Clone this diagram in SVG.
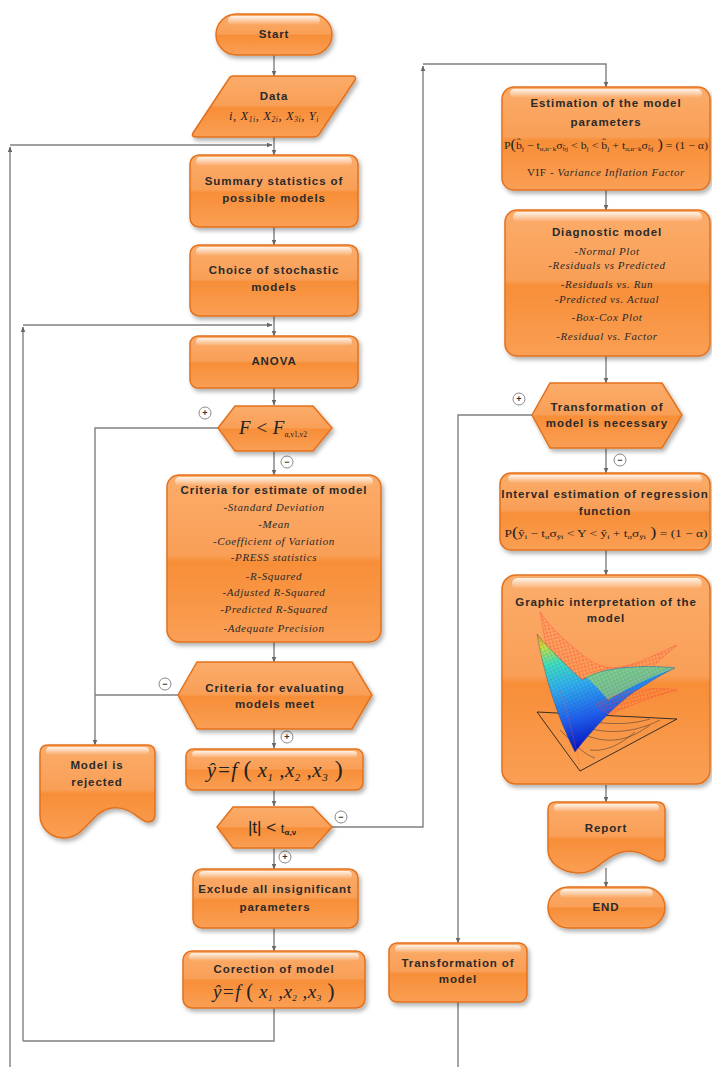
<svg xmlns="http://www.w3.org/2000/svg" width="712" height="1067" viewBox="0 0 712 1067">
<defs>
<style>
.box{fill:url(#og);stroke:#e2711d;stroke-width:1.5;filter:url(#sh)}
.gl{fill:url(#gloss)}
.lbl{font-family:"Liberation Sans",Arial,sans-serif;font-weight:bold;font-size:11.5px;letter-spacing:0.9px;fill:#2a2a2a;text-anchor:middle}
.it{font-family:"Liberation Serif","Times New Roman",serif;font-style:italic;font-size:11px;letter-spacing:0.6px;fill:#2a2a2a;text-anchor:middle}
.fm{font-family:"Liberation Serif","Times New Roman",serif;fill:#222;text-anchor:middle}
.cn{fill:none;stroke:#808080;stroke-width:1.4}
.arr{marker-end:url(#ah)}
.sg circle{fill:#fff;stroke:#8a8a8a;stroke-width:1}
.sg text{font-family:"Liberation Sans",Arial,sans-serif;font-size:9px;font-weight:bold;fill:#333;text-anchor:middle}
</style>
<linearGradient id="og" x1="0" y1="0" x2="0" y2="1">
<stop offset="0" stop-color="#fbac6a"/>
<stop offset="0.48" stop-color="#f99f57"/>
<stop offset="0.52" stop-color="#f78e38"/>
<stop offset="1" stop-color="#fa9f55"/>
</linearGradient>
<linearGradient id="gloss" x1="0" y1="0" x2="0" y2="1">
<stop offset="0" stop-color="#fff" stop-opacity="0.85"/>
<stop offset="1" stop-color="#fff" stop-opacity="0"/>
</linearGradient>
<linearGradient id="jet" x1="0.05" y1="0" x2="0.35" y2="1">
<stop offset="0" stop-color="#f0a020"/>
<stop offset="0.1" stop-color="#c8e040"/>
<stop offset="0.25" stop-color="#40e0c0"/>
<stop offset="0.45" stop-color="#30b0f0"/>
<stop offset="0.72" stop-color="#2060f0"/>
<stop offset="1" stop-color="#0008c0"/>
</linearGradient>
<pattern id="redmesh" width="5" height="5" patternUnits="userSpaceOnUse" patternTransform="rotate(30)">
<path d="M0,0 L5,5 M5,0 L0,5" stroke="#ff3030" stroke-width="0.5" stroke-opacity="0.7"/>
</pattern>
<pattern id="dkmesh" width="5" height="5" patternUnits="userSpaceOnUse" patternTransform="rotate(20)">
<path d="M0,0 L5,5 M5,0 L0,5" stroke="#203050" stroke-width="0.4" stroke-opacity="0.35"/>
</pattern>
<filter id="sh" x="-10%" y="-10%" width="125%" height="130%">
<feDropShadow dx="2" dy="3" stdDeviation="2.2" flood-color="#000" flood-opacity="0.3"/>
</filter>
<marker id="ah" viewBox="0 0 10 10" refX="9" refY="5" markerWidth="6" markerHeight="6" markerUnits="userSpaceOnUse" orient="auto">
<path d="M0,1 L10,5 L0,9 z" fill="#666"/>
</marker>
</defs>
<rect width="712" height="1067" fill="#fff"/>

<g id="connectors">
<path class="cn arr" d="M274,55 V76"/>
<path class="cn arr" d="M274,137 V155"/>
<path class="cn arr" d="M10,1067 V147"/>
<path class="cn arr" d="M10,145 H272"/>
<path class="cn arr" d="M274,227 V245"/>
<path class="cn arr" d="M274,316 V336"/>
<path class="cn arr" d="M23,1041 V327"/>
<path class="cn arr" d="M23,325 H272"/>
<path class="cn arr" d="M274,388 V405"/>
<path class="cn arr" d="M274,451 V475"/>
<path class="cn arr" d="M218,428 H95 V745"/>
<path class="cn arr" d="M274,642 V662"/>
<path class="cn" d="M178,695 H95"/>
<path class="cn arr" d="M274,729 V748"/>
<path class="cn arr" d="M274,790 V806"/>
<path class="cn arr" d="M332,827 H423 V66"/>
<path class="cn arr" d="M423,64 H606 V87"/>
<path class="cn arr" d="M274,848 V869"/>
<path class="cn arr" d="M274,928 V951"/>
<path class="cn" d="M274,1008 V1041 H23"/>
<path class="cn arr" d="M606,190 V210"/>
<path class="cn arr" d="M606,356 V383"/>
<path class="cn arr" d="M532,415 H458 V943"/>
<path class="cn arr" d="M606,448 V473"/>
<path class="cn arr" d="M606,550 V575"/>
<path class="cn arr" d="M606,785 V802"/>
<path class="cn arr" d="M606,868 V887"/>
<path class="cn" d="M458,1002 V1067"/>
</g>

<g id="signs" class="sg">
<circle cx="205" cy="413" r="6"/><text x="205" y="416">+</text>
<circle cx="287" cy="462" r="6"/><text x="287" y="465">−</text>
<circle cx="165" cy="684" r="6"/><text x="165" y="687">−</text>
<circle cx="287" cy="737" r="6"/><text x="287" y="740">+</text>
<circle cx="341" cy="817" r="6"/><text x="341" y="820">−</text>
<circle cx="285" cy="857" r="6"/><text x="285" y="860">+</text>
<circle cx="519" cy="399" r="6"/><text x="519" y="402">+</text>
<circle cx="620" cy="460" r="6"/><text x="620" y="463">−</text>
</g>

<g id="start">
<rect class="box" x="216" y="14" width="116" height="41" rx="20.5"/>
<rect class="gl" x="228" y="16" width="92" height="9" rx="4.5"/>
<text class="lbl" x="274" y="38">Start</text>
</g>

<g id="data">
<path class="box" d="M233,76 H352 Q357,76 355,80 L320,133 Q318,137 313,137 H196 Q191,137 193,133 L228,80 Q230,76 233,76 Z"/>
<text class="lbl" x="274" y="100">Data</text>
<text class="fm" x="274" y="120" font-size="12.5" font-style="italic" letter-spacing="0.6">i, X<tspan font-size="7.5" dy="2">1i</tspan><tspan dy="-2">, X</tspan><tspan font-size="7.5" dy="2">2i</tspan><tspan dy="-2">, X</tspan><tspan font-size="7.5" dy="2">3i</tspan><tspan dy="-2">, Y</tspan><tspan font-size="7.5" dy="2">i</tspan></text>
</g>

<g id="summary">
<rect class="box" x="190" y="155" width="168" height="72" rx="9"/>
<rect class="gl" x="196" y="157" width="156" height="9" rx="4.5"/>
<text class="lbl" x="274" y="185">Summary statistics of</text>
<text class="lbl" x="274" y="202">possible models</text>
</g>

<g id="choice">
<rect class="box" x="190" y="245" width="168" height="71" rx="9"/>
<rect class="gl" x="196" y="247" width="156" height="9" rx="4.5"/>
<text class="lbl" x="274" y="274">Choice of stochastic</text>
<text class="lbl" x="274" y="291">models</text>
</g>

<g id="anova">
<rect class="box" x="190" y="336" width="168" height="52" rx="8"/>
<rect class="gl" x="196" y="338" width="156" height="8" rx="4"/>
<text class="lbl" x="274" y="365">ANOVA</text>
</g>

<g id="ftest">
<polygon class="box" points="218,428 235,406 313,406 332,428 313,451 235,451"/>
<text class="fm" x="273" y="434" font-size="19" font-style="italic">F &lt; F<tspan font-size="7.5" dy="3" font-style="normal">α,v1,v2</tspan></text>
</g>

<g id="criteria">
<rect class="box" x="167" y="475" width="214" height="167" rx="12"/>
<rect class="gl" x="175" y="477" width="198" height="9" rx="4.5"/>
<text class="lbl" x="274" y="494">Criteria for estimate of model</text>
<text class="it" x="274" y="511">-Standard Deviation</text>
<text class="it" x="274" y="528">-Mean</text>
<text class="it" x="274" y="545">-Coefficient of Variation</text>
<text class="it" x="274" y="561">-PRESS statistics</text>
<text class="it" x="274" y="580">-R-Squared</text>
<text class="it" x="274" y="596">-Adjusted R-Squared</text>
<text class="it" x="274" y="613">-Predicted R-Squared</text>
<text class="it" x="274" y="632">-Adequate Precision</text>
</g>

<g id="meet">
<polygon class="box" points="178,695 197,662 352,662 372,695 352,729 197,729"/>
<text class="lbl" x="275" y="692">Criteria for evaluating</text>
<text class="lbl" x="275" y="708">models meet</text>
</g>

<g id="rejected">
<path class="box" d="M48,745 H147 Q155,745 155,753 V814 Q155,822 148,822 C140,822 132,806 112,808 C90,811 86,839 63,838 C49,837 40,827 40,815 V753 Q40,745 48,745 Z"/>
<rect class="gl" x="46" y="747" width="103" height="8" rx="4"/>
<text class="lbl" x="97" y="769">Model is</text>
<text class="lbl" x="97" y="786">rejected</text>
</g>

<g id="yhat">
<rect class="box" x="186" y="749" width="177" height="41" rx="7"/>
<rect class="gl" x="192" y="751" width="165" height="7" rx="3.5"/>
<text class="fm" x="275" y="777" font-size="21" font-style="italic" letter-spacing="0.5">ŷ=f <tspan font-style="normal" font-size="24">(</tspan> x<tspan font-size="11" dy="4">1</tspan><tspan dy="-4"> ,x</tspan><tspan font-size="11" dy="4">2</tspan><tspan dy="-4"> ,x</tspan><tspan font-size="11" dy="4">3</tspan><tspan dy="-4" font-style="normal" font-size="24"> )</tspan></text>
</g>

<g id="ttest">
<polygon class="box" points="217,827 233,807 313,807 332,827 313,848 233,848"/>
<text x="272" y="833" font-family="Liberation Sans, Arial, sans-serif" font-size="17" fill="#222" text-anchor="middle">|t| &lt;  <tspan font-size="13">t</tspan><tspan font-size="8" dy="2" font-weight="bold">α,ν</tspan></text>
</g>

<g id="exclude">
<rect class="box" x="193" y="869" width="165" height="59" rx="9"/>
<rect class="gl" x="199" y="871" width="153" height="8" rx="4"/>
<text class="lbl" x="275" y="893">Exclude all insignificant</text>
<text class="lbl" x="275" y="911">parameters</text>
</g>

<g id="correction">
<rect class="box" x="183" y="951" width="182" height="57" rx="9"/>
<rect class="gl" x="189" y="953" width="170" height="8" rx="4"/>
<text class="lbl" x="274" y="973">Corection of model</text>
<text class="fm" x="274" y="998" font-size="19" font-style="italic" letter-spacing="0.5">ŷ=f <tspan font-style="normal" font-size="21">(</tspan> x<tspan font-size="9" dy="3">1</tspan><tspan dy="-3"> ,x</tspan><tspan font-size="9" dy="3">2</tspan><tspan dy="-3"> ,x</tspan><tspan font-size="9" dy="3">3</tspan><tspan dy="-3" font-style="normal" font-size="21"> )</tspan></text>
</g>

<g id="estimation">
<rect class="box" x="502" y="87" width="208" height="103" rx="12"/>
<rect class="gl" x="510" y="89" width="192" height="9" rx="4.5"/>
<text class="lbl" x="606" y="107">Estimation of the model</text>
<text class="lbl" x="606" y="126">parameters</text>
<text class="fm" x="606" y="149" font-size="11" textLength="204" lengthAdjust="spacingAndGlyphs">P<tspan font-size="15">(</tspan>b̂<tspan font-size="7" dy="2">j</tspan><tspan dy="-2"> − t</tspan><tspan font-size="6.5" dy="2">α,n−k</tspan><tspan dy="-2">σ</tspan><tspan font-size="6.5" dy="2">b̂j</tspan><tspan dy="-2">  &lt; b</tspan><tspan font-size="7" dy="2">j</tspan><tspan dy="-2"> &lt; b̂</tspan><tspan font-size="7" dy="2">j</tspan><tspan dy="-2"> + t</tspan><tspan font-size="6.5" dy="2">α,n−k</tspan><tspan dy="-2">σ</tspan><tspan font-size="6.5" dy="2">b̂j</tspan><tspan dy="-2" font-size="15"> )</tspan> = (1 − α)</text>
<text class="it" x="606" y="176"><tspan font-style="normal">VIF - </tspan>Variance Inflation Factor</text>
</g>

<g id="diagnostic">
<rect class="box" x="505" y="210" width="205" height="146" rx="12"/>
<rect class="gl" x="513" y="212" width="189" height="10" rx="5"/>
<text class="lbl" x="607" y="236">Diagnostic model</text>
<text class="it" x="607" y="255">-Normal Plot</text>
<text class="it" x="607" y="269">-Residuals vs Predicted</text>
<text class="it" x="607" y="288">-Residuals vs. Run</text>
<text class="it" x="607" y="303">-Predicted vs. Actual</text>
<text class="it" x="607" y="321">-Box-Cox Plot</text>
<text class="it" x="607" y="340">-Residual vs. Factor</text>
</g>

<g id="transnec">
<polygon class="box" points="532,415 550,383 662,383 682,415 662,448 550,448"/>
<text class="lbl" x="607" y="411">Transformation of</text>
<text class="lbl" x="607" y="427">model is necessary</text>
</g>

<g id="interval">
<rect class="box" x="500" y="473" width="210" height="77" rx="11"/>
<rect class="gl" x="508" y="475" width="194" height="8" rx="4"/>
<text class="lbl" x="605" y="498">Interval estimation of regression</text>
<text class="lbl" x="605" y="515">function</text>
<text class="fm" x="606" y="537" font-size="11" textLength="203" lengthAdjust="spacingAndGlyphs">P<tspan font-size="15">(</tspan>ŷ<tspan font-size="7" dy="2">i</tspan><tspan dy="-2"> − t</tspan><tspan font-size="7" dy="2">α</tspan><tspan dy="-2">σ</tspan><tspan font-size="7" dy="2">ŷi</tspan><tspan dy="-2">  &lt; Y &lt; ŷ</tspan><tspan font-size="7" dy="2">i</tspan><tspan dy="-2"> + t</tspan><tspan font-size="7" dy="2">α</tspan><tspan dy="-2">σ</tspan><tspan font-size="7" dy="2">ŷi</tspan><tspan dy="-2" font-size="15"> )</tspan> = (1 − α)</text>
</g>

<g id="graphic">
<rect class="box" x="502" y="575" width="208" height="209" rx="14"/>
<rect class="gl" x="512" y="578" width="190" height="11" rx="5.5"/>
<text class="lbl" x="606" y="606">Graphic interpretation of the</text>
<text class="lbl" x="606" y="622">model</text>
<g id="plot">
<polygon points="537,712 677,719 580,771" fill="none" stroke="#222" stroke-width="0.9"/>
<path d="M560,716 C590,722 620,728 650,719 M570,722 C600,735 630,735 660,720 M585,735 C610,745 630,740 650,725 M590,750 C605,752 620,745 635,732 M560,730 C575,745 585,755 595,758" fill="none" stroke="#333" stroke-width="0.5"/>
<path d="M540,612 C546,650 558,700 578,748 C598,722 620,694 642,676 C656,664 666,654 677,645 C660,652 640,664 620,667 C600,670 588,660 574,648 C560,636 548,624 540,612 Z" fill="url(#redmesh)" stroke="#ff4040" stroke-width="0.6" stroke-opacity="0.6"/>
<path d="M537,634 C543,670 556,715 575,752 C594,728 614,706 634,692 C650,682 662,674 675,668 C660,666 640,666 620,668 C602,670 590,675 582,680 C567,666 548,648 537,634 Z" fill="url(#jet)"/>
<path d="M585,676 C610,668 645,664 675,668 C652,676 628,688 608,700 C600,690 592,682 585,676 Z" fill="#a8dc60" opacity="0.65"/>
<path d="M537,634 C543,670 556,715 575,752 C594,728 614,706 634,692 C650,682 662,674 675,668 C660,666 640,666 620,668 C602,670 590,675 582,680 C567,666 548,648 537,634 Z" fill="url(#dkmesh)" stroke="#305080" stroke-width="0.4"/>
<path d="M595,705 C620,690 650,686 677,690 C655,696 630,705 610,715 Z" fill="url(#redmesh)" stroke="#ff4040" stroke-width="0.5" stroke-opacity="0.6"/>
<path d="M560,690 C570,720 575,745 580,765" fill="none" stroke="#ff5050" stroke-width="0.5" opacity="0.6"/>
</g>
</g>

<g id="report">
<path class="box" d="M556,802 H657 Q665,802 665,810 V855 Q665,862 658,861 C650,860 640,848 622,852 C602,857 597,874 578,873 C560,872 548,862 548,850 V810 Q548,802 556,802 Z"/>
<rect class="gl" x="554" y="804" width="105" height="8" rx="4"/>
<text class="lbl" x="606" y="832">Report</text>
</g>

<g id="end">
<rect class="box" x="548" y="887" width="117" height="41" rx="20.5"/>
<rect class="gl" x="560" y="889" width="93" height="9" rx="4.5"/>
<text class="lbl" x="606" y="911">END</text>
</g>

<g id="transformation">
<rect class="box" x="389" y="943" width="138" height="59" rx="8"/>
<rect class="gl" x="395" y="945" width="126" height="8" rx="4"/>
<text class="lbl" x="458" y="967">Transformation of</text>
<text class="lbl" x="458" y="983">model</text>
</g>
</svg>
